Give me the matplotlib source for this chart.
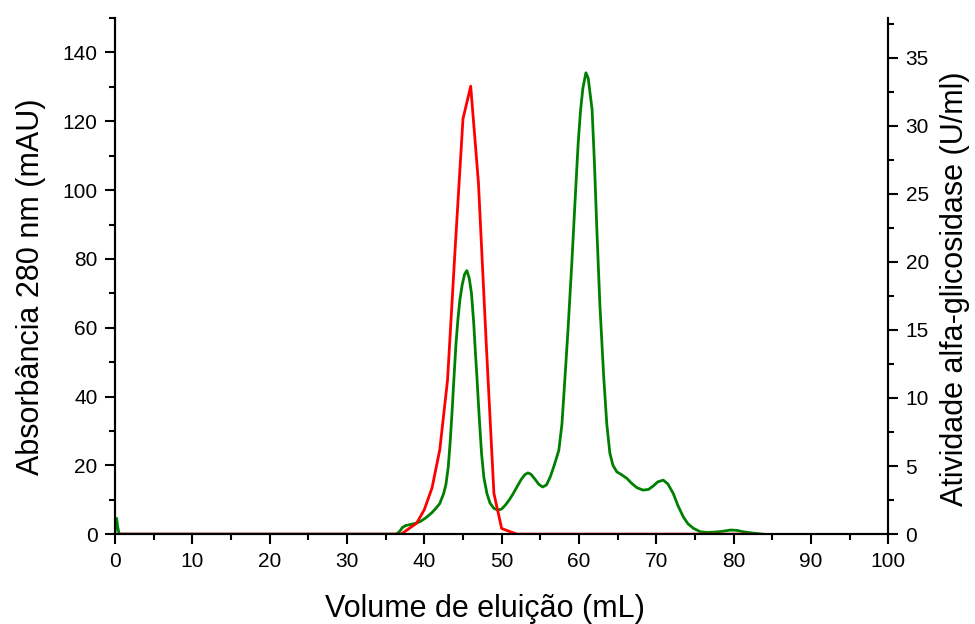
import matplotlib
matplotlib.use("Agg")
import matplotlib.pyplot as plt
from matplotlib.ticker import MultipleLocator

plt.rcParams['font.family'] = ['Liberation Sans', 'DejaVu Sans']

# absorbance 280 nm (left axis)
vol_abs = [0.0, 0.1, 0.2, 0.35, 0.5, 0.7,
           36.4, 36.8, 37.2, 37.6, 38.2, 38.8, 39.5, 40.1, 40.6, 41.0, 41.5, 42.0,
           42.5, 42.8, 43.1, 43.35, 43.6, 43.85, 44.1, 44.35, 44.6, 44.9, 45.2, 45.5,
           45.8, 46.1, 46.4, 46.6, 46.8, 47.1, 47.4, 47.7, 48.1, 48.5, 49.0, 49.5,
           50.0, 50.5, 51.0, 51.5, 52.0, 52.5, 53.0, 53.4, 53.8, 54.3, 54.8, 55.3,
           55.8, 56.3, 56.8, 57.4, 57.8, 58.2, 58.6, 59.1, 59.5, 59.9, 60.2, 60.5,
           60.9, 61.2, 61.5, 61.7, 62.0, 62.3, 62.7, 63.2, 63.6, 64.0, 64.4, 64.9,
           65.5, 66.2, 66.8, 67.5, 68.3, 69.0, 69.6, 70.2, 70.9, 71.5, 72.2, 72.8,
           73.5, 74.1, 74.8, 75.7, 76.5, 77.5, 78.5, 79.6, 80.4, 81.2, 82.5, 83.8]
absorb = [0.5, 3.0, 4.6, 2.0, 0.3, 0.0,
          0.0, 0.8, 2.0, 2.5, 2.8, 3.1, 3.7, 4.6, 5.5, 6.3, 7.5, 8.9,
          11.8, 14.5, 19.6, 27.0, 36.0, 46.0, 55.5, 62.5, 68.1, 72.5, 75.5, 76.6,
          74.5, 70.0, 61.0, 53.0, 45.8, 34.0, 23.5, 16.5, 11.8, 9.0, 7.5, 7.0,
          7.3, 8.5, 10.0, 11.8, 13.8, 15.8, 17.3, 17.8, 17.4, 16.0, 14.5, 13.7,
          14.3, 16.7, 20.0, 24.4, 32.0, 45.8, 60.0, 79.7, 97.0, 113.7, 123.0, 129.5,
          134.1, 132.5, 127.0, 123.4, 108.0, 89.4, 67.0, 45.8, 32.0, 23.5, 20.0, 18.1,
          17.3, 16.2, 14.8, 13.5, 12.8, 13.0, 14.0, 15.2, 15.7, 14.6, 11.8, 8.3,
          5.0, 3.0, 1.7, 0.7, 0.5, 0.6, 0.8, 1.2, 1.1, 0.7, 0.3, 0.0]

# alpha-glucosidase activity (right axis), one value per fraction
vol_act = [0.6, 37, 38, 39, 40, 41, 42, 43, 44, 45, 46, 47, 48, 49, 50, 51, 52, 82]
activity = [0.0, 0.0, 0.4, 0.8, 1.8, 3.4, 6.2, 11.3, 21.1, 30.5, 32.9, 25.8, 14.1, 3.0,
            0.42, 0.2, 0.0, 0.0]

fig = plt.figure(figsize=(9.75, 6.24), dpi=100)
ax = fig.add_axes([0.118, 0.144, 0.793, 0.827])
ax2 = ax.twinx()

ax.plot(vol_abs, absorb, color='#008000', lw=2)
ax2.plot(vol_act, activity, color='#ff0000', lw=2)

ax.set_xlim(0, 100)
ax.set_ylim(0, 150)
ax2.set_ylim(0, 37.9)

ax.xaxis.set_major_locator(MultipleLocator(10))
ax.xaxis.set_minor_locator(MultipleLocator(5))
ax.yaxis.set_major_locator(MultipleLocator(20))
ax.yaxis.set_minor_locator(MultipleLocator(10))
ax2.yaxis.set_major_locator(MultipleLocator(5))
ax2.yaxis.set_minor_locator(MultipleLocator(2.5))

for a in (ax, ax2):
    a.spines['top'].set_visible(False)
    for s in a.spines.values():
        s.set_linewidth(1.5)
    a.tick_params(which='major', direction='out', length=7.5, width=1.5,
                  labelsize=15, pad=5)
    a.tick_params(which='minor', direction='out', length=4, width=1.5)

ax.set_xlabel('Volume de eluição (mL)', fontsize=22, labelpad=17)
ax.set_ylabel('Absorbância 280 nm (mAU)', fontsize=22, labelpad=12)
ax2.set_ylabel('Atividade alfa-glicosidase (U/ml)', fontsize=22, labelpad=8)
ax.xaxis.label.set_x(0.479)
ax.yaxis.label.set_y(0.48)
ax2.yaxis.label.set_y(0.475)

fig.savefig('out.png', dpi=100)
